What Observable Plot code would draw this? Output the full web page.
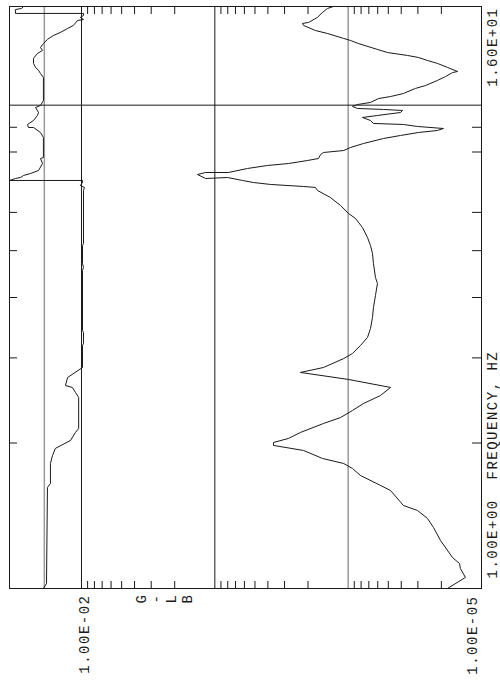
<!DOCTYPE html>
<html><head><meta charset="utf-8">
<script src="https://cdn.jsdelivr.net/npm/d3@7"></script>
<script src="https://cdn.jsdelivr.net/npm/@observablehq/plot@0.6"></script>
<style>
html,body{margin:0;padding:0;background:#fff;}
svg text{white-space:pre;letter-spacing:1.5px;}
</style></head><body><div id="chart"></div>
<script>
// Main PSD trace: frequency (Hz) and level (G^2/Hz)
const psdFreq = [1.000,1.054,1.100,1.126,1.159,1.257,1.337,1.396,1.450,1.485,1.595,1.634,1.713,1.771,1.814,1.858,1.930,1.977,2.005,2.044,2.103,2.195,2.258,2.335,2.414,2.508,2.606,2.707,2.799,2.866,2.991,3.063,3.183,3.307,3.451,3.637,3.814,4.039,4.276,4.400,4.704,4.933,5.124,5.323,5.583,5.828,5.969,6.200,6.442,6.661,6.757,6.788,6.854,6.918,6.985,7.085,7.051,7.187,7.256,7.256,7.396,7.502,7.573,7.682,7.756,7.905,7.981,8.057,8.173,8.331,8.532,8.655,8.779,8.864,8.948,9.034,9.121,9.165,9.296,9.430,9.520,9.656,9.750,9.797,9.843,9.938,10.03,10.13,10.32,10.42,10.57,10.83,10.98,11.25,11.46,11.68,11.74,11.97,12.20,12.37,12.55,12.67,12.85,13.04,13.41,13.61,13.74,14.07,14.27,14.62,14.76,14.83,15.19,15.55,15.85,16.00];
const psdAmp = [1.80e-5,1.32e-5,1.44e-5,1.46e-5,1.65e-5,2.03e-5,2.29e-5,2.54e-5,3.02e-5,3.85e-5,4.81e-5,5.72e-5,8.08e-5,9.28e-5,1.08e-4,1.56e-4,2.16e-4,3.63e-4,3.63e-4,2.80e-4,2.28e-4,1.53e-4,1.14e-4,9.28e-5,7.67e-5,5.72e-5,4.81e-5,9.94e-5,2.28e-4,1.53e-4,1.08e-4,9.28e-5,8.08e-5,7.16e-5,6.80e-5,6.57e-5,6.46e-5,6.24e-5,6.03e-5,6.24e-5,6.46e-5,6.57e-5,6.80e-5,7.16e-5,7.81e-5,8.81e-5,9.94e-5,1.14e-4,1.36e-4,1.70e-4,1.76e-4,2.16e-4,3.82e-4,5.13e-4,6.20e-4,8.04e-4,1.17e-3,1.35e-3,1.17e-3,7.90e-4,5.69e-4,4.03e-4,2.80e-4,2.02e-4,1.67e-4,1.61e-4,1.53e-4,1.08e-4,9.61e-5,7.67e-5,5.43e-5,4.05e-5,2.97e-5,2.14e-5,1.93e-5,3.02e-5,3.85e-5,6.46e-5,6.80e-5,7.81e-5,6.03e-5,4.05e-5,3.91e-5,5.43e-5,8.51e-5,9.28e-5,8.51e-5,6.80e-5,5.92e-5,4.81e-5,3.85e-5,3.13e-5,2.63e-5,2.14e-5,1.86e-5,1.65e-5,1.51e-5,1.80e-5,2.14e-5,2.54e-5,2.97e-5,3.59e-5,5.07e-5,6.03e-5,8.37e-5,9.61e-5,1.08e-4,1.43e-4,1.76e-4,2.16e-4,2.20e-4,1.98e-4,1.70e-4,1.56e-4,1.43e-4,1.29e-4];

// Upper strip trace
const stripFreq = [1.000,1.024,1.618,1.649,1.814,1.884,1.949,2.024,2.103,2.143,2.485,2.545,2.606,2.630,2.733,2.866,3.183,3.213,3.386,3.419,4.549,4.615,4.704,5.124,5.173,6.661,6.757,6.822,6.918,6.985,6.985,7.051,7.085,7.153,7.222,7.325,7.573,7.756,7.794,8.573,8.779,8.991,8.991,9.121,9.296,9.520,9.656,9.890,9.984,10.22,11.41,11.63,11.80,11.97,12.20,12.50,12.79,12.98,13.16,13.41,13.68,13.94,14.14,14.41,14.62,14.97,15.04,15.19,15.33,15.48,15.48,15.77,15.85,16.00];
const stripAmp = [0.0193,0.0183,0.0180,0.0171,0.0171,0.0165,0.0157,0.0121,0.0111,0.0105,0.0105,0.0111,0.0117,0.0132,0.0127,0.00983,0.00983,0.00966,0.00966,0.00983,0.00983,0.00966,0.00983,0.00983,0.00966,0.00966,0.00950,0.0102,0.00983,0.00983,0.0347,0.0313,0.0287,0.0272,0.0241,0.0210,0.0196,0.0203,0.0193,0.0193,0.0203,0.0229,0.0250,0.0254,0.0229,0.0214,0.0210,0.0221,0.0203,0.0193,0.0193,0.0203,0.0210,0.0221,0.0229,0.0229,0.0214,0.0196,0.0203,0.0193,0.0180,0.0162,0.0144,0.0127,0.0115,0.0107,0.00966,0.0102,0.00966,0.00966,0.0313,0.0313,0.0282,0.0272];

// Axes
const levelDomain = [0.03467, 1e-5];
const freqDomain = [1, 16];
const levelGridDark = [1e-2, 1e-3];
const levelGridLight = [0.019, 1e-4];
const freqGrid = [10];
const levelMinorTicks = [9e-3,8e-3,7e-3,6e-3,5e-3,4e-3,3e-3,2e-3,9e-4,8e-4,7e-4,6e-4,5e-4,4e-4,3e-4,2e-4,9e-5,8e-5,7e-5,6e-5,5e-5,4e-5,3e-5,2e-5];
const freqMinorTicks = [2,3,4,5,6,8,9];
const levelTickValues = [1e-2, 1e-5];
const levelTickLabels = ["1.00E-02", "1.00E-05"];
const freqTickValues = [1, 16];
const freqTickLabels = ["1.00E+00  FREQUENCY, HZ", "1.60E+01"];
const levelTitle = "G\n-\nL\nB";

const psd = psdFreq.map((f, i) => ({f, a: psdAmp[i]}));
const strip = stripFreq.map((f, i) => ({f, a: stripAmp[i]}));
const ink = "#1a1a1a";

const chart = Plot.plot({
  width: 500, height: 682,
  marginLeft: 9, marginRight: 19, marginTop: 6, marginBottom: 94,
  x: {type: "log", domain: levelDomain, axis: null},
  y: {type: "log", domain: freqDomain, axis: null},
  style: {fontFamily: "'Liberation Mono','Courier New',monospace", fontSize: "14px", background: "#fff", color: ink},
  marks: [
    Plot.ruleX(levelGridLight, {stroke: "#9a9a9a", strokeWidth: 1.5}),
    Plot.ruleX(levelGridDark, {stroke: ink}),
    Plot.ruleY(freqGrid, {stroke: ink}),
    Plot.tickX(levelMinorTicks, {x: d => d, insetTop: 575, stroke: ink}),
    Plot.tickX(levelMinorTicks, {x: d => d, insetBottom: 574, stroke: ink}),
    Plot.tickY(freqMinorTicks, {y: d => d, insetRight: 464, stroke: ink}),
    Plot.tickY(freqMinorTicks, {y: d => d, insetLeft: 463, stroke: ink}),
    Plot.line(strip, {x: "a", y: "f", stroke: ink, strokeWidth: 1}),
    Plot.line(psd, {x: "a", y: "f", stroke: ink, strokeWidth: 1}),
    Plot.frame({stroke: ink}),
    Plot.text([0], {x: () => levelTickValues[0], text: () => levelTickLabels[0], frameAnchor: "bottom", rotate: -90, textAnchor: "end", dx: 8, dy: 6, fill: ink}),
    Plot.text([0], {x: () => levelTickValues[1], text: () => levelTickLabels[1], frameAnchor: "bottom", rotate: -90, textAnchor: "end", dx: -5, dy: 7, fill: ink}),
    Plot.text([0], {text: () => levelTitle, frameAnchor: "bottom-left", rotate: -90, textAnchor: "end", lineHeight: 1.09, dx: 182, dy: 5, fill: ink}),
    Plot.text([0], {y: () => freqTickValues[0], text: () => freqTickLabels[0], frameAnchor: "right", rotate: -90, textAnchor: "start", dx: 11, dy: -10, fill: ink}),
    Plot.text([0], {y: () => freqTickValues[1], text: () => freqTickLabels[1], frameAnchor: "right", rotate: -90, textAnchor: "end", dx: 11, dy: 1, fill: ink})
  ]
});
document.getElementById("chart").appendChild(chart);
</script></body></html>
